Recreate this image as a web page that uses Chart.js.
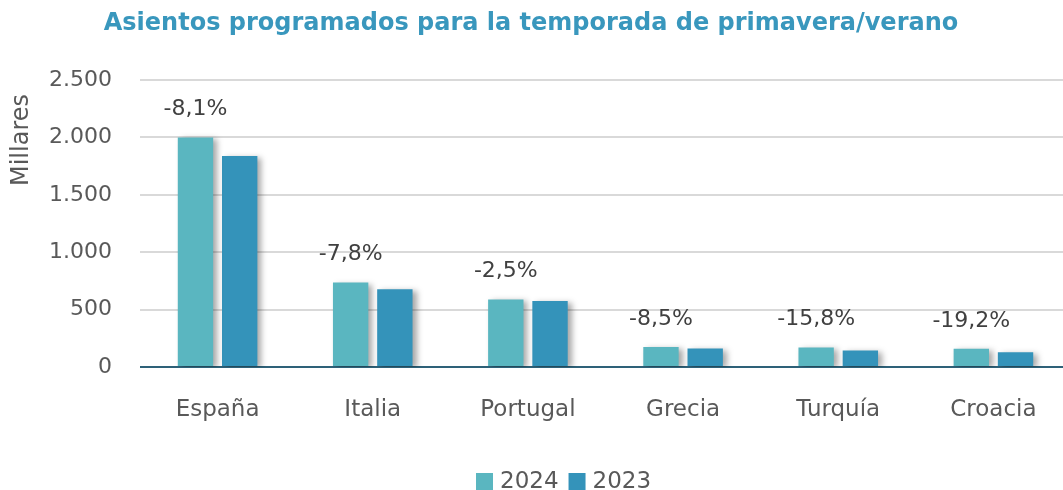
<!DOCTYPE html>
<html>
<head>
<meta charset="utf-8">
<script src="https://cdn.jsdelivr.net/npm/chart.js@4.4.1/dist/chart.umd.min.js"></script>
<style>
  html, body { margin: 0; padding: 0; background: #fff; overflow: hidden; }
  #wrap { width: 1063px; height: 490px; overflow: hidden; }
  #wrap div { width: 1071px; height: 490px; }
</style>
</head>
<body>
<div id="wrap"><div><canvas id="seatsChart"></canvas></div></div>
<script>
// Data (thousands of seats)
const countries = ['España', 'Italia', 'Portugal', 'Grecia', 'Turquía', 'Croacia'];
const seats2024 = [2000, 735, 588, 175, 170, 158];
const seats2023 = [1838, 678, 574, 161, 143, 128];
const changeLabels = ['-8,1%', '-7,8%', '-2,5%', '-8,5%', '-15,8%', '-19,2%'];
const yTicks = [0, 500, 1000, 1500, 2000, 2500];

const FONT = '"DejaVu Sans", sans-serif';
const GREY = '#595959';

/**
 * Shadow behind the bars
 */
const barShadow = {
    id: 'barShadow',
    beforeDatasetsDraw(chart) {
        const ctx = chart.ctx;
        ctx.save();
        ctx.shadowColor = 'rgba(0,0,0,0.35)';
        ctx.shadowBlur = 6;
        ctx.shadowOffsetX = 4;
        ctx.shadowOffsetY = 2;
    },
    afterDatasetsDraw(chart) {
        chart.ctx.restore();
    }
};

/**
 * Title, axis title, change labels and legend
 */
const annotations = {
    id: 'annotations',
    afterDraw(chart) {
        const ctx = chart.ctx;
        ctx.save();

        // Title
        ctx.fillStyle = '#3997BD';
        ctx.font = 'bold 24px ' + FONT;
        ctx.textAlign = 'center';
        ctx.textBaseline = 'middle';
        ctx.fillText('Asientos programados para la temporada de primavera/verano', 531, 24);

        // Y axis title
        ctx.save();
        ctx.translate(22, 140);
        ctx.rotate(-Math.PI / 2);
        ctx.fillStyle = GREY;
        ctx.font = '24px ' + FONT;
        ctx.fillText('Millares', 0, 0);
        ctx.restore();

        // Change labels above the 2024 bars
        ctx.fillStyle = '#404040';
        ctx.font = '22px ' + FONT;
        const meta = chart.getDatasetMeta(0);
        meta.data.forEach((bar, i) => {
            ctx.fillText(changeLabels[i], bar.x, bar.y - 28);
        });

        // Legend
        ctx.textAlign = 'left';
        ctx.font = '23px ' + FONT;
        let x = 476;
        chart.data.datasets.forEach(ds => {
            ctx.fillStyle = ds.backgroundColor;
            ctx.fillRect(x, 473, 17, 17);
            ctx.fillStyle = GREY;
            ctx.fillText(ds.label, x + 24, 482);
            x += 24 + ctx.measureText(ds.label).width + 10;
        });

        ctx.restore();
    }
};

new Chart(document.getElementById('seatsChart'), {
    type: 'bar',
    data: {
        labels: countries,
        datasets: [
            { label: '2024', data: seats2024, backgroundColor: '#5AB6C0' },
            { label: '2023', data: seats2023, backgroundColor: '#3493BA' }
        ]
    },
    options: {
        responsive: true,
        maintainAspectRatio: false,
        animation: false,
        layout: { padding: { top: 80, left: 0, right: 0, bottom: 0 } },
        datasets: {
            bar: { categoryPercentage: 0.57, barPercentage: 0.8 }
        },
        plugins: {
            legend: { display: false },
            title: { display: false },
            tooltip: { enabled: false }
        },
        scales: {
            x: {
                grid: { display: false, drawTicks: false },
                border: { display: false },
                ticks: {
                    color: GREY,
                    font: { family: FONT, size: 23 },
                    padding: 29
                },
                afterFit(scale) { scale.height = 123; }
            },
            y: {
                min: 0,
                max: 2500,
                afterBuildTicks(scale) {
                    scale.ticks = yTicks.map(v => ({ value: v }));
                },
                grid: {
                    drawTicks: false,
                    color: ctx => ctx.tick && ctx.tick.value === 0 ? '#2E6178' : '#D9D9D9',
                    lineWidth: 2
                },
                border: { display: false },
                ticks: {
                    color: GREY,
                    font: { family: FONT, size: 22 },
                    padding: 28,
                    callback: v => v.toLocaleString('es-ES', { useGrouping: 'always' }).replace(/\s/g, '.')
                },
                afterFit(scale) { scale.width = 140; }
            }
        }
    },
    plugins: [barShadow, annotations]
});
</script>
</body>
</html>
